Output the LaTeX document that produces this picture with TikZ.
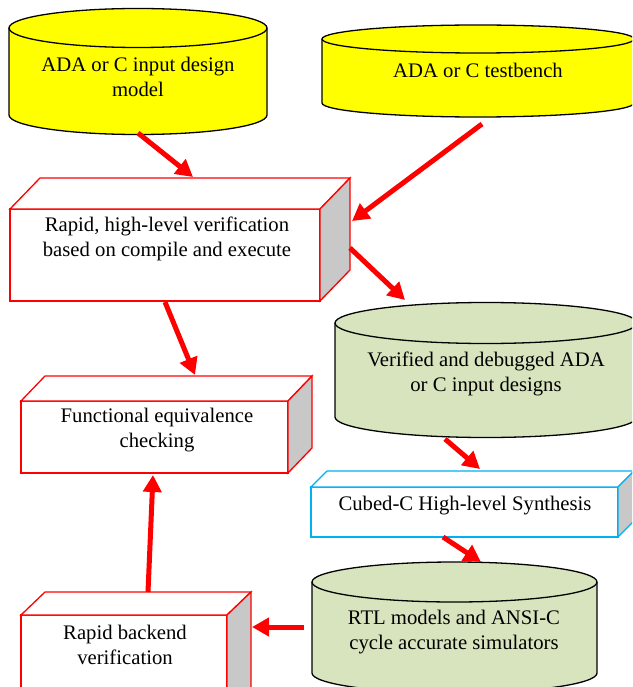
\documentclass[tikz,border=0pt]{standalone}
\usepackage{fontspec}
\setmainfont{Liberation Serif}
\usetikzlibrary{arrows.meta}
\definecolor{cylyellow}{HTML}{FFFF00}
\definecolor{cylgreen}{HTML}{D7E4BD}
\definecolor{sidegray}{HTML}{C8C8C8}
\definecolor{cubeblue}{HTML}{00B0F0}
\newcommand\drawcyl[6]{%
  \fill[#6] ({#1-#2},#3) rectangle ({#1+#2},#4);
  \fill[#6] (#1,#4) ellipse [x radius=#2, y radius=#5];
  \draw[cylline] ({#1-#2},#3) -- ({#1-#2},#4) arc[start angle=180,end angle=0,x radius=#2,y radius=#5] -- ({#1+#2},#3);
  \filldraw[cylline,fill=#6] (#1,#3) ellipse [x radius=#2, y radius=#5];
}
\newcommand\drawcube[7]{%
  \filldraw[boxline,draw=#7,fill=white] (#1,#2) rectangle (#3,#4);
  \filldraw[boxline,draw=#7,fill=white] (#1,#2) -- ({#1+#5},{#2-#6}) -- ({#3+#5},{#2-#6}) -- (#3,#2) -- cycle;
  \filldraw[boxline,draw=#7,fill=sidegray] (#3,#2) -- ({#3+#5},{#2-#6}) -- ({#3+#5},{#4-#6}) -- (#3,#4) -- cycle;
}
\begin{document}
\begin{tikzpicture}[x=1pt,y=-1pt,
  lbl/.style={font=\fontsize{20.7}{25}\selectfont, align=center, inner sep=0pt},
  flow/.style={draw=red, line width=5pt, -{Triangle[length=17pt,width=18pt]}},
  cylline/.style={draw=black, line width=1.3pt},
  boxline/.style={line width=1.3pt, line join=miter}]
\useasboundingbox (0,0) rectangle (632,687);
\clip (0,0) rectangle (632,687);

% shapes
\drawcyl{138}{129}{28}{115}{19.5}{cylyellow}
\drawcyl{478}{156}{39}{103}{14}{cylyellow}
\drawcube{10}{209}{320}{301}{30}{31}{red}
\drawcyl{486}{151}{323}{417}{20.5}{cylgreen}
\drawcube{21}{401}{288}{473}{24}{25}{red}
\drawcube{311}{487}{618}{537}{16}{16}{cubeblue}
\drawcyl{454.5}{142.5}{582}{673}{20}{cylgreen}
\drawcube{21}{615}{227}{720}{24}{23}{red}

% labels
\node[lbl] (design) at (138,77) {ADA or C input design\\model};
\node[lbl] (tb) at (478,70) {ADA or C testbench};
\node[lbl] (rapid) at (167,239) {Rapid, high-level verification\\based on compile and execute};
\node[lbl] (verified) at (486,374) {Verified and debugged ADA\\or C input designs};
\node[lbl] (fec) at (157,430) {Functional equivalence\\checking};
\node[lbl] (cubed) at (465,506) {Cubed-C High-level Synthesis};
\node[lbl] (rtl) at (454,632) {RTL models and ANSI-C\\cycle accurate simulators};
\node[lbl] (backend) at (125,645) {Rapid backend\\verification};

% connector end points
\coordinate (designOut) at (138,133);
\coordinate (rapidInTop) at (193,177);
\coordinate (tbOut) at (482,124);
\coordinate (rapidInSide) at (352,221);
\coordinate (rapidOutSide) at (350,248);
\coordinate (verifiedIn) at (405,300);
\coordinate (rapidOutBottom) at (165,302);
\coordinate (fecInTop) at (195,375);
\coordinate (verifiedOut) at (445,439);
\coordinate (cubedIn) at (480,469);
\coordinate (cubedOut) at (443,537);
\coordinate (rtlIn) at (481,562);
\coordinate (rtlOut) at (304,627);
\coordinate (backendIn) at (252,627);
\coordinate (backendOut) at (148,592);
\coordinate (fecInBottom) at (153,475);

% connectors
\draw[flow] (designOut) -- (rapidInTop);
\draw[flow] (tbOut) -- (rapidInSide);
\draw[flow] (rapidOutSide) -- (verifiedIn);
\draw[flow] (rapidOutBottom) -- (fecInTop);
\draw[flow] (verifiedOut) -- (cubedIn);
\draw[flow] (cubedOut) -- (rtlIn);
\draw[flow] (rtlOut) -- (backendIn);
\draw[flow] (backendOut) -- (fecInBottom);
\end{tikzpicture}
\end{document}
